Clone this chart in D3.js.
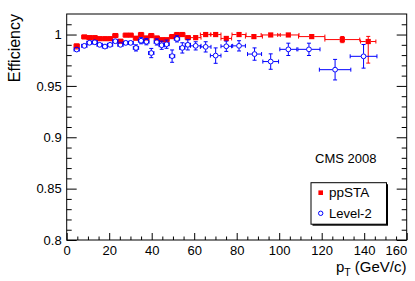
<!DOCTYPE html>
<html>
<head>
<meta charset="utf-8">
<script src="https://cdn.jsdelivr.net/npm/d3@7"></script>
<style>
  body { margin: 0; background: #fff; }
  svg { display: block; font-family: "Liberation Sans", Arial, sans-serif; }
</style>
</head>
<body>
<div id="chart"></div>
<script>
// ppSTA efficiency vs pT
var staPt   = [4.7, 8.3, 10.7, 13.2, 15.5, 18, 20.4, 22.9, 25.3, 27.8, 30.1, 32.6, 35, 37.5, 39.8, 42.4, 44.7, 47, 49.6, 51.9, 54.4, 57,
               60.7, 65.4, 70.1, 75.1, 81.1, 88.1, 96, 104.3, 115.3, 129.7, 141.9];
var staEff  = [0.989, 0.9977, 0.997, 0.997, 0.996, 0.996, 0.996, 0.999, 0.9935, 0.9994, 0.9994, 0.9964, 1.0, 0.9967, 0.999, 0.9967, 0.995, 0.995, 0.998, 1.0, 1.0, 0.997,
               0.997, 1.0, 1.0, 0.9962, 1.0, 0.998, 0.9996, 0.9996, 0.998, 0.9951, 0.9932];
var staXErr = [1.25, 1.25, 1.25, 1.25, 1.25, 1.25, 1.25, 1.25, 1.25, 1.25, 1.25, 1.25, 1.25, 1.25, 1.25, 1.25, 1.25, 1.25, 1.25, 1.25, 1.25, 1.25,
               2.5, 2.5, 2.5, 2.5, 3.3, 4, 4.5, 5, 6.2, 8.2, 3.6];
var staErrLo = [0.003, 0.001, 0.001, 0.001, 0.001, 0.001, 0.001, 0.001, 0.002, 0.001, 0.001, 0.002, 0.001, 0.002, 0.001, 0.002, 0.002, 0.002, 0.001, 0.001, 0.001, 0.002,
                0.002, 0.001, 0.001, 0.002, 0.001, 0.002, 0.001, 0.001, 0.002, 0.003, 0.021];
var staErrHi = [0.002, 0.001, 0.001, 0.001, 0.001, 0.001, 0.001, 0.001, 0.002, 0.0006, 0.0006, 0.002, 0, 0.002, 0.001, 0.002, 0.002, 0.002, 0.001, 0, 0, 0.002,
                0.002, 0, 0, 0.002, 0, 0.001, 0.0004, 0.0004, 0.001, 0.003, 0.005];

// Level-2 efficiency vs pT
var l2Pt   = [4.7, 8.3, 10.7, 13.2, 15.5, 18, 20.4, 22.9, 25.3, 27.8, 30.1, 32.6, 35, 37.5, 39.8, 42.4, 44.7, 47, 49.6, 51.9, 54.4, 57,
              60.7, 65.4, 70.1, 75.1, 81.1, 88.4, 96, 104.3, 114, 126.3, 139.7];
var l2Eff  = [0.9854, 0.989, 0.992, 0.9925, 0.990, 0.9883, 0.990, 0.9935, 0.990, 0.9919, 0.9919, 0.987, 0.994, 0.993, 0.982, 0.9928, 0.9896, 0.9906, 0.979, 0.9958, 0.987, 0.990,
              0.989, 0.988, 0.9795, 0.9886, 0.989, 0.981, 0.9737, 0.9856, 0.9856, 0.9658, 0.9788];
var l2XErr = [1.25, 1.25, 1.25, 1.25, 1.25, 1.25, 1.25, 1.25, 1.25, 1.25, 1.25, 1.25, 1.25, 1.25, 1.25, 1.25, 1.25, 1.25, 1.25, 1.25, 1.25, 1.25,
              2.5, 2.5, 2.5, 2.5, 3, 3.3, 3.7, 4, 5.2, 7.4, 6.3];
var l2YErr = [0.002, 0.002, 0.002, 0.002, 0.002, 0.002, 0.002, 0.002, 0.002, 0.002, 0.002, 0.003, 0.003, 0.003, 0.0045, 0.003, 0.004, 0.004, 0.006, 0.003, 0.005, 0.005,
              0.004, 0.005, 0.0075, 0.005, 0.005, 0.006, 0.0075, 0.006, 0.006, 0.01, 0.0115];

var xTicks = [0, 20, 40, 60, 80, 100, 120, 140, 160];
var yTicks = [0.8, 0.85, 0.9, 0.95, 1];
var seriesNames = ["ppSTA", "Level-2"];

var W = 415, H = 281;
var m = {left: 66.7, right: 8.3, top: 14, bottom: 41};
var iw = W - m.left - m.right, ih = H - m.top - m.bottom;

var x = d3.scaleLinear().domain([0, 160]).range([0, iw]);
var y = d3.scaleLinear().domain([0.8, 1.02]).range([ih, 0]);

var svg = d3.select("#chart").append("svg").attr("width", W).attr("height", H);
var g = svg.append("g").attr("transform", "translate(" + m.left + "," + m.top + ")");

// minor ticks
var xMinor = d3.range(5, 160, 5).filter(function(v) { return v % 20 !== 0; });
var yMinor = d3.range(81, 102, 1).map(function(v) { return v / 100; }).filter(function(v) { return Math.round(v * 100) % 5 !== 0; });

function styleAxis(sel) {
  sel.select(".domain").remove();
  sel.selectAll("line").attr("stroke", "#000").attr("stroke-width", 1);
  sel.selectAll("text").attr("fill", "#000").style("font-size", "13px");
}

g.append("g").attr("transform", "translate(0," + ih + ")")
  .call(d3.axisBottom(x).tickValues(xTicks).tickSize(-7).tickPadding(6).tickFormat(d3.format("d")))
  .call(styleAxis)
  .call(function(s) {
    s.selectAll(".tick text").filter(function(d) { return d === 160; }).attr("text-anchor", "end").attr("x", 0);
  });
g.append("g").attr("transform", "translate(0," + ih + ")")
  .call(d3.axisBottom(x).tickValues(xMinor).tickSize(-3.5).tickFormat(""))
  .call(styleAxis);

g.append("g")
  .call(d3.axisLeft(y).tickValues(yTicks).tickSize(-10).tickPadding(5).tickFormat(function(d) { return String(+d.toFixed(2)); }))
  .call(styleAxis);
g.append("g")
  .call(d3.axisLeft(y).tickValues(yMinor).tickSize(-5).tickFormat(""))
  .call(styleAxis);

// right side ticks
g.append("g").attr("transform", "translate(" + iw + ",0)")
  .call(d3.axisRight(y).tickValues(yTicks).tickSize(-10).tickFormat(""))
  .call(styleAxis);
g.append("g").attr("transform", "translate(" + iw + ",0)")
  .call(d3.axisRight(y).tickValues(yMinor).tickSize(-5).tickFormat(""))
  .call(styleAxis);

// frame
g.append("rect").attr("width", iw).attr("height", ih)
  .attr("fill", "none").attr("stroke", "#000").attr("stroke-width", 1);

// error bars, gap left open around the marker
function drawErrors(layer, pts, color, gap) {
  var cap = 2;
  pts.forEach(function(p) {
    var cx = x(p.pt), cy = y(p.eff);
    var x0 = x(p.pt - p.xerr), x1 = x(p.pt + p.xerr);
    var yLo = y(p.eff - p.lo), yHi = y(p.eff + p.hi);
    var segs = [];
    if (cx - x0 > gap) {
      segs.push([x0, cy, cx - gap, cy], [x1, cy, cx + gap, cy]);
      segs.push([x0, cy - cap, x0, cy + cap], [x1, cy - cap, x1, cy + cap]);
    }
    if (yLo - cy > gap) {
      segs.push([cx, cy + gap, cx, yLo], [cx - cap, yLo, cx + cap, yLo]);
    }
    if (cy - yHi > gap) {
      segs.push([cx, cy - gap, cx, yHi], [cx - cap, yHi, cx + cap, yHi]);
    }
    segs.forEach(function(s) {
      layer.append("line").attr("x1", s[0]).attr("y1", s[1]).attr("x2", s[2]).attr("y2", s[3])
        .attr("stroke", color).attr("stroke-width", 1);
    });
  });
}

var staData = staPt.map(function(p, i) {
  return {pt: p, eff: staEff[i], xerr: staXErr[i], lo: staErrLo[i], hi: staErrHi[i]};
});
var l2Data = l2Pt.map(function(p, i) {
  return {pt: p, eff: l2Eff[i], xerr: l2XErr[i], lo: l2YErr[i], hi: l2YErr[i]};
});

var staLayer = g.append("g");
drawErrors(staLayer, staData, "#ff0000", 2.5);
staLayer.selectAll("rect.sta").data(staData).enter().append("rect")
  .attr("class", "sta")
  .attr("x", function(d) { return x(d.pt) - 2.6; })
  .attr("y", function(d) { return y(d.eff) - 2.6; })
  .attr("width", 5.2).attr("height", 5.2)
  .attr("fill", "#ff0000");

var l2Layer = g.append("g");
drawErrors(l2Layer, l2Data, "#0000ff", 2.6);
l2Layer.selectAll("circle.l2").data(l2Data).enter().append("circle")
  .attr("class", "l2")
  .attr("cx", function(d) { return x(d.pt); })
  .attr("cy", function(d) { return y(d.eff); })
  .attr("r", 2.4)
  .attr("fill", "none").attr("stroke", "#0000ff").attr("stroke-width", 1);

// axis titles
svg.append("text")
  .attr("transform", "translate(20,14) rotate(-90)")
  .attr("text-anchor", "end")
  .style("font-size", "16px")
  .text("Efficiency");

var xt = svg.append("text")
  .attr("x", 406.5).attr("y", 271.5)
  .attr("text-anchor", "end")
  .style("font-size", "15px");
xt.append("tspan").text("p");
xt.append("tspan").attr("dy", 4).style("font-size", "10.5px").text("T");
xt.append("tspan").attr("dy", -4).text(" (GeV/c)");

svg.append("text").attr("x", 315).attr("y", 162.7)
  .style("font-size", "13px").text("CMS 2008");

// legend
var lg = svg.append("g");
lg.append("rect").attr("x", 312.5).attr("y", 184.2).attr("width", 75.5).attr("height", 41.5).attr("fill", "#000");
lg.append("rect").attr("x", 311).attr("y", 182.7).attr("width", 75.5).attr("height", 41.5)
  .attr("fill", "#fff").attr("stroke", "#000").attr("stroke-width", 1);
lg.append("rect").attr("x", 318.4).attr("y", 190.4).attr("width", 4.6).attr("height", 4.6).attr("fill", "#ff0000");
lg.append("circle").attr("cx", 320.7).attr("cy", 213.3).attr("r", 2.2)
  .attr("fill", "none").attr("stroke", "#0000ff").attr("stroke-width", 1);
lg.append("text").attr("x", 329).attr("y", 196.8).style("font-size", "13.5px").text(seriesNames[0]);
lg.append("text").attr("x", 329).attr("y", 218.3).style("font-size", "13px").text(seriesNames[1]);
</script>
</body>
</html>
